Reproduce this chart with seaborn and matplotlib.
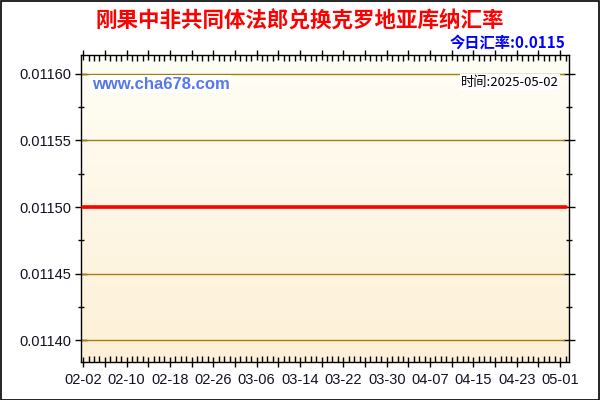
import numpy as np
import pandas as pd
import matplotlib
matplotlib.use("Agg")
import matplotlib.pyplot as plt
import matplotlib.dates as mdates
from matplotlib.ticker import FixedLocator, FuncFormatter
from matplotlib.patches import Rectangle
import seaborn as sns

# ---- data ----
start_date = "2025-02-02"
end_date = "2025-05-02"
dates = pd.date_range(start_date, end_date, freq="D")
rates = [0.0115] * len(dates)  # rate read as flat 0.0115 across the period
y_ticks = [0.01140, 0.01145, 0.01150, 0.01155, 0.01160]
title_text = "刚果中非共同体法郎兑换克罗地亚库纳汇率"
today_text = "今日汇率:0.0115"
site_text = "www.cha678.com"
time_text = "时间:2025-05-02"

df = pd.DataFrame({"date": dates, "rate": rates})

sns.set_theme(style="white")
plt.rcParams["font.family"] = ["Liberation Sans", "Noto Sans CJK SC", "DejaVu Sans"]

fig = plt.figure(figsize=(6, 4), dpi=100)
fig.patch.set_facecolor("white")
ax = fig.add_axes([0.135, 0.096, 0.813, 0.766])

# gradient background
t = np.linspace(0, 1, 256).reshape(256, 1, 1)
top = np.array([255, 254, 246]).reshape(1, 1, 3) / 255
bot = np.array([253, 240, 214]).reshape(1, 1, 3) / 255
img = top + (bot - top) * t
ax.imshow(img, extent=[0, 1, 0, 1], transform=ax.transAxes, aspect="auto", zorder=0)

sns.lineplot(data=df, x="date", y="rate", ax=ax, color="#ff0000", linewidth=2.6, zorder=3)

x0 = mdates.date2num(pd.Timestamp(start_date)) - 0.4
x1 = mdates.date2num(pd.Timestamp(end_date)) + 0.6
ax.set_xlim(x0, x1)
ax.set_ylim(0.011384, 0.011614)

# grid lines
for yv in y_ticks:
    ax.axhline(yv, xmin=0.0, xmax=0.99, color="#a87d10", linewidth=1.0, zorder=1)

ax.set_yticks(y_ticks)
ax.yaxis.set_minor_locator(FixedLocator([0.011425, 0.011475, 0.011525, 0.011575]))
ax.yaxis.set_major_formatter(FuncFormatter(lambda v, p: f"{v:.5f}"))

major_days = pd.date_range(start_date, end_date, freq="4D")
major_pos = mdates.date2num(major_days)
ax.xaxis.set_major_locator(FixedLocator(major_pos))
ax.xaxis.set_minor_locator(FixedLocator(mdates.date2num(dates)))
labels = {mdates.date2num(d): d.strftime("%m-%d") for i, d in enumerate(major_days) if i % 2 == 0}
ax.xaxis.set_major_formatter(FuncFormatter(lambda v, p: labels.get(v, "")))

ax.set_xlabel("")
ax.set_ylabel("")
for s in ax.spines.values():
    s.set_color("black")
    s.set_linewidth(1)

ax.tick_params(axis="both", which="both", colors="black", labelsize=10.5, labelcolor="#111122")
ax.tick_params(axis="y", which="major", direction="inout", length=8, width=1, left=True, right=True, pad=3)
ax.tick_params(axis="y", which="minor", direction="inout", length=5, width=1, left=True, right=True)
ax.tick_params(axis="x", which="major", direction="inout", length=7, width=1, bottom=True, top=True, pad=5)
ax.tick_params(axis="x", which="minor", direction="in", length=4, width=1, bottom=True, top=True)
ax.yaxis.set_tick_params(which="both", labelright=False)

# texts
fig.text(0.5, 0.948, title_text, ha="center", va="center", color="#ff0000",
         fontsize=15.5, fontweight="bold", family=["Noto Sans CJK SC", "DejaVu Sans"])
fig.text(0.942, 0.893, today_text, ha="right", va="center", color="#0000ff",
         fontsize=11, fontweight="bold", family=["Noto Sans CJK SC", "DejaVu Sans"])
ax.text(0.022, 0.905, site_text, transform=ax.transAxes, ha="left", va="center",
        color="#5577ee", fontsize=12, fontweight="bold", family=["Liberation Sans", "DejaVu Sans"],
        bbox=dict(facecolor="white", edgecolor="none", pad=1), zorder=5)
ax.text(0.98, 0.912, time_text, transform=ax.transAxes, ha="right", va="center",
        color="black", fontsize=9.5, family=["Noto Sans CJK SC", "DejaVu Sans"],
        bbox=dict(facecolor="white", edgecolor="none", pad=1), zorder=5)

# figure border
fig.add_artist(Rectangle((0.001, 0.001), 0.997, 0.997, transform=fig.transFigure,
                         fill=False, edgecolor="black", linewidth=1.2))

fig.savefig("out.png", dpi=100)
